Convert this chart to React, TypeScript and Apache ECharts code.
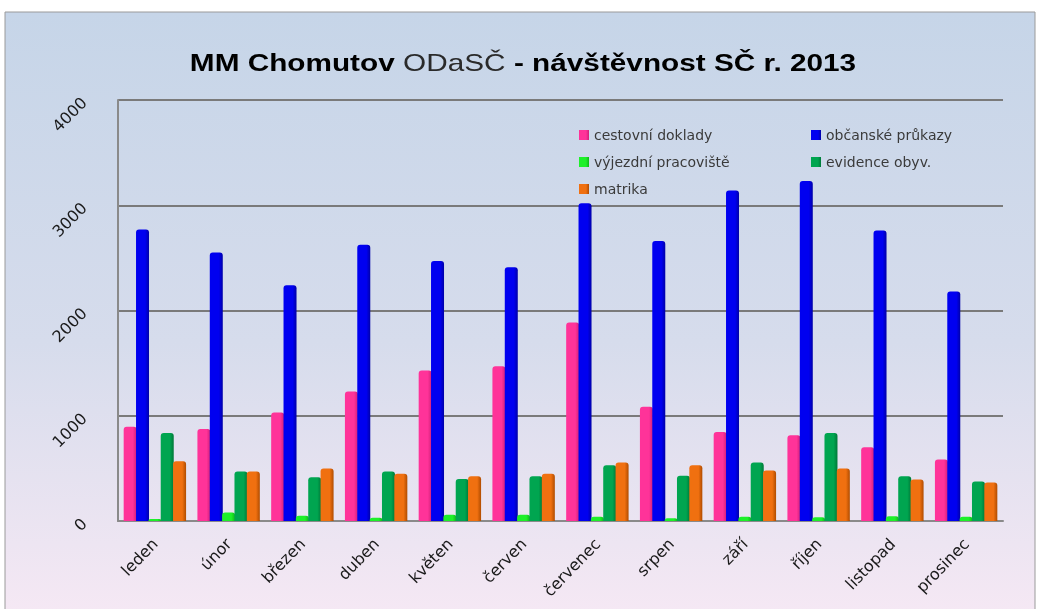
import React, { useEffect, useRef } from "react";
import * as echarts from "echarts";

const months = ["leden", "únor", "březen", "duben", "květen", "červen", "červenec", "srpen", "září", "říjen", "listopad", "prosinec"];
const cestovniDoklady = [895, 875, 1030, 1230, 1430, 1470, 1885, 1085, 845, 815, 700, 585];
const obcanskePrukazy = [2770, 2550, 2240, 2625, 2470, 2410, 3020, 2660, 3140, 3230, 2760, 2180];
const vyjezdniPracoviste = [20, 80, 50, 30, 60, 60, 40, 25, 40, 35, 45, 40];
const evidenceObyv = [836, 470, 415, 470, 400, 425, 530, 430, 555, 835, 425, 375];
const matrika = [567, 470, 500, 450, 425, 450, 555, 530, 480, 500, 395, 365];
const yTicks = [0, 1000, 2000, 3000, 4000];

const seriesDefs = [
  { name: "cestovní doklady", data: cestovniDoklady, color: "#ff3399", dark: "#d0207a" },
  { name: "občanské průkazy", data: obcanskePrukazy, color: "#0000f0", dark: "#0000a8" },
  { name: "výjezdní pracoviště", data: vyjezdniPracoviste, color: "#1ef02a", dark: "#10b818" },
  { name: "evidence obyv.", data: evidenceObyv, color: "#00a550", dark: "#007838" },
  { name: "matrika", data: matrika, color: "#f07010", dark: "#b04c00" },
];

export default function App() {
  const ref = useRef<HTMLDivElement>(null);
  useEffect(() => {
    if (!ref.current) return;
    const chart = echarts.init(ref.current, null, { renderer: "svg" });
    const legendText = { fontFamily: "DejaVu Sans", fontSize: 14, color: "#3a3a3a" };
    chart.setOption({
      animation: false,
      graphic: [
        {
          type: "rect",
          z: -10,
          shape: { x: 5, y: 12, width: 1030, height: 600 },
          style: {
            fill: new echarts.graphic.LinearGradient(0, 0, 0, 1, [
              { offset: 0, color: "#c6d5e8" },
              { offset: 0.55, color: "#d6dcec" },
              { offset: 1, color: "#f5e8f4" },
            ]),
            stroke: "#9a9a9a",
            lineWidth: 1,
          },
        },
        {
          type: "text",
          x: 523,
          y: 63,
          scaleX: 1.24,
          style: {
            text: "{b|MM Chomutov }{n|ODaSČ }{b|- návštěvnost SČ r. 2013}",
            align: "center",
            verticalAlign: "middle",
            rich: {
              b: { fontFamily: "Liberation Sans", fontWeight: "bold", fontSize: 24, fill: "#000" },
              n: { fontFamily: "Liberation Sans", fontWeight: "normal", fontSize: 24, fill: "#2a2a2a" },
            },
          },
        },
      ],
      legend: [
        {
          data: ["cestovní doklady", "výjezdní pracoviště", "matrika"],
          orient: "vertical",
          left: 574,
          top: 123,
          itemGap: 13,
          itemWidth: 10,
          itemHeight: 10,
          icon: "rect",
          textStyle: legendText,
        },
        {
          data: ["občanské průkazy", "evidence obyv."],
          orient: "vertical",
          left: 806,
          top: 123,
          itemGap: 13,
          itemWidth: 10,
          itemHeight: 10,
          icon: "rect",
          textStyle: legendText,
        },
      ],
      grid: { left: 118, right: 35, top: 100, bottom: 88, containLabel: false },
      xAxis: {
        type: "category",
        data: months,
        axisLine: { show: true, lineStyle: { color: "#8a8a8a", width: 2 } },
        axisTick: { show: false },
        axisLabel: {
          rotate: 46,
          interval: 0,
          margin: 20,
          fontFamily: "DejaVu Sans",
          fontSize: 16,
          color: "#1a1a1a",
        },
      },
      yAxis: {
        type: "value",
        min: 0,
        max: 4000,
        interval: 1000,
        axisLine: { show: true, lineStyle: { color: "#8a8a8a", width: 2 } },
        axisTick: { show: false },
        splitLine: { show: true, lineStyle: { color: "#7a7a7a", width: 2 } },
        axisLabel: {
          rotate: 45,
          margin: 34,
          fontFamily: "DejaVu Sans",
          fontSize: 16,
          color: "#1a1a1a",
          formatter: (v: number) => (yTicks.includes(v) ? String(v) : ""),
        },
      },
      series: seriesDefs.map((s) => ({
        name: s.name,
        type: "bar",
        data: s.data,
        barWidth: 13,
        barGap: "-5%",
        itemStyle: {
          color: new echarts.graphic.LinearGradient(0, 0, 1, 0, [
            { offset: 0, color: s.color },
            { offset: 0.7, color: s.color },
            { offset: 1, color: s.dark },
          ]),
          borderRadius: [3, 3, 0, 0],
        },
      })),
      color: seriesDefs.map((s) => s.color),
    });
    return () => chart.dispose();
  }, []);
  return <div ref={ref} style={{ position: "fixed", left: 0, top: 0, width: 1038, height: 609 }} />;
}
